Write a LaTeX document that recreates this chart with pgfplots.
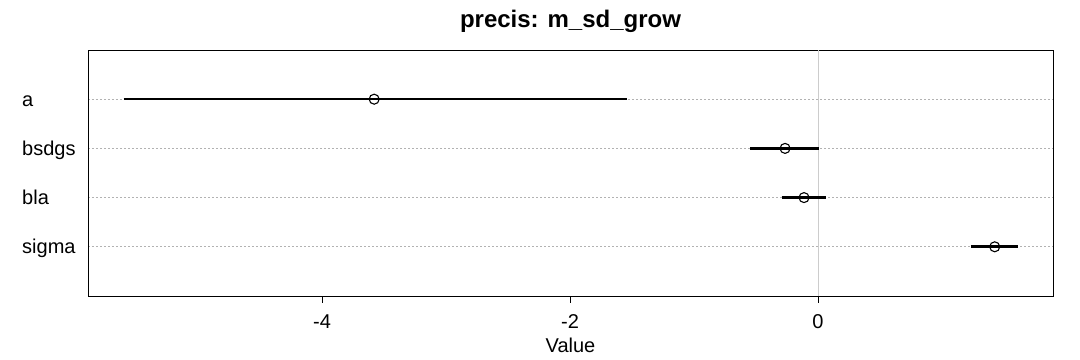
\documentclass[border=0pt]{standalone}
\usepackage{fontspec}
\setmainfont{Liberation Sans}
\usepackage{pgfplots}
\pgfplotsset{compat=1.18}
\begin{document}
\begin{tikzpicture}
\begin{axis}[
  scale only axis,
  width=965pt, height=246pt,
  xmin=-5.888, xmax=1.895, ymin=0, ymax=5,
  axis line style={line width=0.9pt, black},
  tick pos=left,
  xtick={-4,-2,0},
  xticklabels={-4,-2,0},
  ytick={1,2,3,4},
  yticklabels={sigma,bla,bsdgs,a},
  ytick style={draw=none},
  xtick style={line width=0.9pt, black},
  xtick align=outside,
  major tick length=7pt,
  ymajorgrids,
  y grid style={black!30, dash pattern=on 2pt off 2pt, line width=0.8pt},
  tick label style={font=\fontsize{20}{24}\selectfont},
  yticklabel style={anchor=base west, inner sep=0pt, xshift=-66pt, yshift=-7pt},
  xticklabel style={anchor=base, inner sep=0pt, yshift=-26pt},
  title={precis: m\_sd\_grow},
  title style={font=\bfseries\fontsize{24}{28}\selectfont, at={(0.5,1)}, anchor=base, yshift=16pt, inner sep=0pt},
  xlabel={Value},
  xlabel style={font=\fontsize{20}{24}\selectfont, at={(0.5,0)}, anchor=base, yshift=-57pt, inner sep=0pt},
]
\addplot[black!20, line width=0.8pt] coordinates {(0,0) (0,5)};
\addplot[black, line width=2.6pt] coordinates {(-5.60,4) (-1.54,4)};
\addplot[black, line width=2.6pt] coordinates {(-0.548,3) (0.01,3)};
\addplot[black, line width=2.6pt] coordinates {(-0.293,2) (0.062,2)};
\addplot[black, line width=2.6pt] coordinates {(1.233,1) (1.61,1)};
\addplot[only marks, mark=o, mark size=5pt, mark options={draw=black, fill=white, line width=1.1pt}]
  coordinates {(-3.58,4) (-0.266,3) (-0.113,2) (1.425,1)};
\end{axis}
\pgfresetboundingbox
\useasboundingbox ([xshift=-88pt,yshift=-64pt]current axis.south west) rectangle ([xshift=27pt,yshift=50pt]current axis.north east);
\end{tikzpicture}
\end{document}
